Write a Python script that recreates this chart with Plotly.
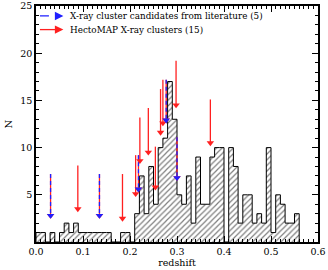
import plotly.graph_objects as go

# ---- data ----
bin_width = 0.01
bin_left = [round(i * bin_width, 2) for i in range(56)]
counts = [1, 1, 0, 1, 0, 1, 2, 1, 2, 1,
          1, 1, 1, 1, 1, 1, 0, 0, 1, 1,
          0, 3, 7, 3, 8, 4, 10, 11, 17, 13,
          5, 4, 7, 2, 9, 4, 4, 9, 10, 10,
          0, 10, 8, 2, 5, 5, 2, 3, 2, 10,
          1, 5, 4, 2, 2, 3]

red_x = [0.031, 0.089, 0.135, 0.184, 0.212, 0.218, 0.221, 0.239, 0.254,
         0.265, 0.270, 0.277, 0.298, 0.300, 0.371]
red_top = [7.2, 8.1, 7.2, 7.2, 9.2, 9.2, 13.2, 14.2, 10.1, 16.2, 17.2, 17.2, 19.2, 11.1, 15.1]
red_tip = [2.5, 3.2, 2.5, 2.2, 4.8, 5.3, 8.3, 9.2, 5.5, 11.3, 12.3, 12.6, 14.2, 6.5, 10.2]

blue_x = [0.031, 0.135, 0.218, 0.277, 0.300]
blue_top = [7.2, 7.2, 9.2, 17.2, 11.1]
blue_tip = [2.5, 2.5, 5.3, 12.6, 6.5]

legend_labels = ["X-ray cluster candidates from literature (5)", "HectoMAP X-ray clusters (15)"]
x_ticks = [0.0, 0.1, 0.2, 0.3, 0.4, 0.5, 0.6]
x_ticktext = ["0.0", "0.1", "0.2", "0.3", "0.4", "0.5", "0.6"]
y_ticks = [5, 10, 15, 20, 25]

FONT = "DejaVu Serif"
RED = "#ff2020"
BLUE = "#1f1fff"

fig = go.Figure()

# hatched bars
fig.add_trace(go.Bar(
    x=[b + bin_width / 2 for b in bin_left], y=counts, width=bin_width,
    marker=dict(color="white", line=dict(width=0),
                pattern=dict(shape="/", fgcolor="black", bgcolor="white", size=4, solidity=0.3)),
    showlegend=False, hoverinfo="skip"))

# step outline
edges = bin_left + [round(bin_left[-1] + bin_width, 2)]
sx = [edges[0]] + edges
sy = [0] + counts + [0]
fig.add_trace(go.Scatter(x=sx, y=sy, mode="lines", line=dict(color="black", width=1, shape="hv"),
                         showlegend=False, hoverinfo="skip"))


def arrows(xs, tops, tips, color, dash):
    lx, ly = [], []
    for x, t, p in zip(xs, tops, tips):
        lx += [x, x, None]
        ly += [t, p + 0.3, None]
    fig.add_trace(go.Scatter(x=lx, y=ly, mode="lines", line=dict(color=color, width=1.3, dash=dash),
                             showlegend=False, hoverinfo="skip"))
    fig.add_trace(go.Scatter(x=xs, y=[p + 0.3 for p in tips], mode="markers",
                             marker=dict(symbol="triangle-down", size=6.5, color=color, line=dict(width=0)),
                             showlegend=False, hoverinfo="skip"))


arrows(red_x, red_top, red_tip, RED, "solid")
arrows(blue_x, blue_top, blue_tip, BLUE, "4px,3px")

# custom legend (paper coords)
leg_y = [0.958, 0.9]
leg_col = [BLUE, RED]
leg_dash = ["dash", "solid"]
for yy, c, d, lab in zip(leg_y, leg_col, leg_dash, legend_labels):
    fig.add_shape(type="line", xref="paper", yref="paper", x0=0.014, x1=0.085, y0=yy, y1=yy,
                  line=dict(color=c, width=1.3, dash=d))
    fig.add_annotation(xref="paper", yref="paper", x=0.097, y=yy, ax=-7, ay=0, text="",
                       showarrow=True, arrowhead=2, arrowsize=1.3, arrowwidth=1.3, arrowcolor=c)
    fig.add_annotation(xref="paper", yref="paper", x=0.112, y=yy, text=lab, showarrow=False,
                       xanchor="left", yanchor="middle", font=dict(family=FONT, size=8.8, color="black"))

axis_common = dict(showline=True, linecolor="black", linewidth=1.5, mirror="allticks",
                   ticks="inside", tickcolor="black", showgrid=False, zeroline=False,
                   automargin=False, tickfont=dict(family=FONT, size=9.5, color="black"))
fig.update_xaxes(range=[0, 0.6], tickvals=x_ticks, ticktext=x_ticktext, ticklen=6, tickwidth=1,
                 minor=dict(dtick=0.01, ticklen=3, ticks="inside", tickcolor="black"),
                 title=dict(text="redshift", font=dict(family=FONT, size=9.5, color="black"), standoff=2),
                 **axis_common)
fig.update_yaxes(range=[0, 25], tickvals=y_ticks, ticklen=6, tickwidth=1,
                 minor=dict(dtick=1, ticklen=3, ticks="inside", tickcolor="black"),
                 title=dict(text="N", font=dict(family=FONT, size=10, color="black"), standoff=6),
                 **axis_common)

fig.update_layout(width=328, height=270, margin=dict(l=36, r=10, t=6, b=28),
                  plot_bgcolor="white", paper_bgcolor="white", bargap=0, showlegend=False)

fig.write_html("out.html", config={"displayModeBar": False},
               post_script="document.body.style.margin='0';")
